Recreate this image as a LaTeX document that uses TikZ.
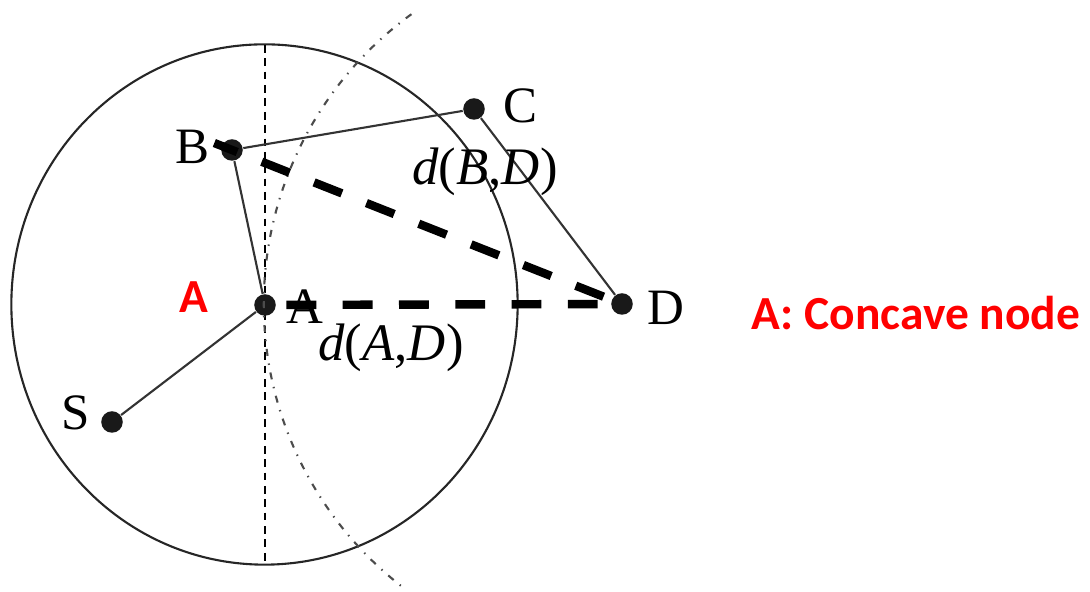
\documentclass[tikz,border=0pt]{standalone}
\usepackage{fontspec}
\setmainfont{Liberation Serif}
\newfontfamily\calib{Carlito}
\begin{document}
\begin{tikzpicture}[x=0.01cm,y=-0.01cm,
  dot/.style={circle,fill=black!90,inner sep=0pt,minimum size=0.215cm},
  edgeline/.style={line width=0.6pt,black!80},
  thickdash/.style={line width=2.4pt,dash pattern=on 8.5pt off 7.5pt},
  lbl/.style={font=\fontsize{14.5}{16}\selectfont,inner sep=0pt},
  dlbl/.style={font=\fontsize{15}{17}\selectfont,inner sep=0pt},
  redlbl/.style={font=\calib\bfseries\fontsize{13.5}{15}\selectfont,text=red,inner sep=0pt}]
\useasboundingbox (0,0) rectangle (1090,592);
% big circle
\coordinate (O) at (264.5,304.5);
\draw[line width=0.6pt,black!85] (O) ellipse [x radius=2.53cm, y radius=2.60cm];
% vertical dashed line
\coordinate (vtop) at (265,45);
\coordinate (vbot) at (265,564);
\draw[line width=0.5pt,dash pattern=on 2.2pt off 1.6pt] (vtop) -- (vbot);
% nodes
\node[dot] (A) at (265,305) {};
\node[dot] (B) at (232,150) {};
\node[dot] (C) at (474,109) {};
\node[dot] (D) at (622,304) {};
\node[dot] (S) at (112,422) {};
% dash-dot arc centred on D
\draw[line width=0.6pt,black!70,dash pattern=on 2pt off 2.2pt on 0.4pt off 2.2pt]
  ([shift={(126:3.58cm)}]D.center) arc[start angle=126,end angle=232,radius=3.58cm];
% solid edges
\draw[edgeline] (S) -- (A);
\draw[edgeline] (A) -- (B);
\draw[edgeline] (B) -- (C);
\draw[edgeline] (C) -- (D);
% thick dashed distances
\draw[thickdash,shorten <=-0.19cm,dash phase=1.5pt] (B.center) -- (D);
\draw[thickdash,shorten <=0.1cm] (A) -- (D);
% labels
\node[lbl] (lA) at (305,307) {A};
\node[lbl] (lB) at (193,147) {B};
\node[lbl] (lC) at (521,106) {C};
\node[lbl] (lD) at (666,308) {D};
\node[lbl] (lS) at (76,413) {S};
\node[dlbl] (dBD) at (485,172) {\textit{d}(\textit{B},\textit{D})};
\node[dlbl] (dAD) at (391,348) {\textit{d}(\textit{A},\textit{D})};
\node[redlbl] (rA) at (194,297) {A};
\node[redlbl] (concave) at (916,313) {A: Concave node};
\end{tikzpicture}
\end{document}
